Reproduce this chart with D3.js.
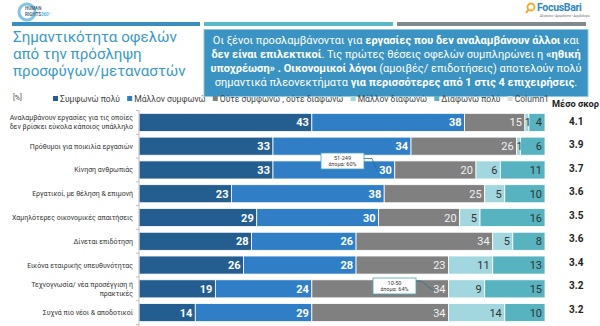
<!DOCTYPE html>
<html><head><meta charset="utf-8">
<script src="https://cdn.jsdelivr.net/npm/d3@7"></script>
<style>
html,body{margin:0;padding:0;background:#fff;}
svg{display:block;font-family:Roboto,"Liberation Sans",sans-serif;}
</style></head>
<body>
<svg id="c" width="600" height="326"></svg>
<script>
// ---- data ----
const categories = [
  ["Αναλαμβάνουν εργασίες για τις οποίες","δεν βρίσκει εύκολα κάποιος υπάλληλο"],
  ["Πρόθυμοι για ποικιλία εργασιών"],
  ["Κίνηση ανθρωπιάς"],
  ["Εργατικοί, με θέληση & επιμονή"],
  ["Χαμηλότερες οικονομικές απαιτήσεις"],
  ["Δίνεται επιδότηση"],
  ["Εικόνα εταιρικής υπευθυνότητας"],
  ["Τεχνογνωσία/ νέα προσέγγιση ή","πρακτικές"],
  ["Συχνά πιο νέοι & αποδοτικοί"]
];
const seriesNames = ["Συμφωνώ πολύ","Μάλλον συμφωνώ","Ούτε  συμφωνώ , ούτε  διαφωνώ","Μάλλον  διαφωνώ","Διαφωνώ πολύ","Column1"];
const agreeVery   = [43,33,33,23,29,28,26,19,14];
const agreeRather = [38,34,30,38,30,26,28,24,29];
const neutral     = [15,26,20,25,20,34,23,34,34];
const disRather   = [1,1,6,5,5,5,11,9,14];
const disVery     = [4,6,11,10,16,8,13,15,10];
const meanScore   = [4.1,3.9,3.7,3.6,3.5,3.6,3.4,3.2,3.2];
const titleLines = ["Σημαντικότητα οφελών","από την πρόσληψη","προσφύγων/μεταναστών"];
const boxLines = [
  [["Οι ξένοι προσλαμβάνονται για ",0],["εργασίες που δεν αναλαμβάνουν άλλοι",1],[" και",0]],
  [["δεν είναι επιλεκτικοί",1],[". Τις πρώτες θέσεις οφελών συμπληρώνει η ",0],["«ηθική",1]],
  [["υποχρέωση» . Οικονομικοί λόγοι",1],[" (αμοιβές/ επιδοτήσεις) αποτελούν πολύ",0]],
  [["σημαντικά πλεονεκτήματα ",0],["για περισσότερες από 1 στις 4 επιχειρήσεις",1],[".",0]]
];
const callouts = [
  {row:2, lines:["51-249","άτομα: 60%"]},
  {row:7, lines:["10-50","άτομα: 64%"]}
];

const colors = ["#245E91","#2F7EC6","#808080","#A2D7DF","#56B3BF","#D9DDE0"];
const labelFill = ["#fff","#fff","#f2f2f2","#333","#333"];
const labelWeight = ["bold","bold","normal","normal","normal"];

const svg = d3.select("#c");

// ---- header decorations ----
svg.append("rect").attr("x",12).attr("y",22).attr("width",188).attr("height",4).attr("fill","#3B8EC0");
svg.append("rect").attr("x",204).attr("y",22).attr("width",189).attr("height",4).attr("fill","#5BB8C8");
svg.append("rect").attr("x",397).attr("y",22).attr("width",189).attr("height",4).attr("fill","#7E8A8C");

// human rights logo
svg.append("circle").attr("cx",27).attr("cy",12).attr("r",8).attr("fill","none").attr("stroke","#7FC6E6").attr("stroke-width",3);
svg.append("text").attr("x",25).attr("y",10).attr("font-size",4.5).attr("font-weight","bold").attr("fill","#4a6a80").text("HUMAN");
svg.append("text").attr("x",25).attr("y",16).attr("font-size",4.5).attr("font-weight","bold").attr("fill","#4a6a80").text("RIGHTS")
  .append("tspan").attr("fill","#55B7E0").text("360°");

// focus bari logo
svg.append("circle").attr("cx",531).attr("cy",7).attr("r",3.5).attr("fill","none").attr("stroke","#F5A623").attr("stroke-width",1.8);
svg.append("line").attr("x1",528.5).attr("y1",9.5).attr("x2",526).attr("y2",13).attr("stroke","#F5A623").attr("stroke-width",2);
svg.append("text").attr("x",537).attr("y",11).attr("font-size",10.5).attr("font-weight","bold").attr("fill","#2F86C8")
  .attr("letter-spacing",-0.3).text("FocusBari");
svg.append("text").attr("x",540).attr("y",16.5).attr("font-size",2.8).attr("fill","#666").text("Αξιόπιστο • Αμεροληπτο • Ακριβολογία");

// title
const title = svg.append("g");
const titleBase = [42,59,76];
titleLines.forEach((t,i)=>{
  title.append("text").attr("x",13).attr("y",titleBase[i]).attr("font-size",17)
    .attr("fill","#3A9AC8").text(t);
});
{
  const w = title.select("text").node().getComputedTextLength();
  title.selectAll("text").attr("font-size",17*164/w);
}

// text box
svg.append("rect").attr("x",204).attr("y",29.5).attr("width",384).attr("height",67)
  .attr("fill","#3A93C2").attr("stroke","#8CC8E0").attr("stroke-width",1);
const boxBase = [44,58,72,86];
const boxG = svg.append("g");
boxLines.forEach((parts,i)=>{
  const t = boxG.append("text").attr("x",396).attr("y",boxBase[i]).attr("text-anchor","middle")
    .attr("font-size",11).attr("fill","#fff");
  parts.forEach(p=>t.append("tspan").attr("font-weight",p[1]?"bold":"normal").text(p[0]));
});
{
  const w = boxG.select("text").node().getComputedTextLength();
  boxG.selectAll("text").attr("font-size",11*367/w);
}

// ---- chart ----
const x = d3.scaleLinear().domain([0,1]).range([139,545]);
const y = d3.scaleBand().domain(d3.range(categories.length)).range([110.5,324.5]).paddingInner(0.24).paddingOuter(0.12);

const series = [agreeVery,agreeRather,neutral,disRather,disVery];
const rows = categories.map((c,i)=>{
  const vals = series.map(s=>s[i]);
  const tot = d3.sum(vals);
  let cum = 0;
  return vals.map((v,k)=>{ const seg={row:i,k,v,x0:cum/tot,x1:(cum+v)/tot}; cum+=v; return seg; });
});
const segs = rows.flat();

svg.append("g").selectAll("rect").data(segs).join("rect")
  .attr("x",d=>x(d.x0)).attr("y",d=>y(d.row))
  .attr("width",d=>x(d.x1)-x(d.x0)).attr("height",y.bandwidth())
  .attr("fill",d=>colors[d.k]).attr("stroke","#fff").attr("stroke-width",0.8);

const narrow = d=> (x(d.x1)-x(d.x0)) < 10;
svg.append("g").selectAll("text").data(segs).join("text")
  .attr("x",d=> narrow(d) ? (x(d.x0)+x(d.x1))/2 + 1 : x(d.x1)-3)
  .attr("y",d=>y(d.row)+y.bandwidth()/2+4)
  .attr("text-anchor",d=> narrow(d) ? "middle" : "end").attr("font-size",d=> narrow(d)?10:11)
  .attr("font-weight",d=>labelWeight[d.k]).attr("fill",d=>labelFill[d.k])
  .text(d=>d.v);

// axis
const yAxis = svg.append("g").attr("transform","translate(139,0)");
yAxis.append("line").attr("x1",0).attr("x2",0).attr("y1",110).attr("y2",326).attr("stroke","#bfbfbf");
const bounds = d3.range(categories.length+1).map(i=> i===0?110.5: y(i-1)+y.bandwidth()+y.step()*y.paddingInner()/2);
yAxis.selectAll("line.tk").data(bounds).join("line").attr("class","tk")
  .attr("x1",-3).attr("x2",0).attr("y1",d=>d).attr("y2",d=>d).attr("stroke","#bfbfbf");

// category labels
svg.append("g").selectAll("text").data(categories).join("text")
  .attr("x",133).attr("y",(d,i)=>y(i)+y.bandwidth()/2 + 2.5 - (d.length-1)*4.5)
  .attr("text-anchor","end").attr("font-size",7).attr("fill","#333")
  .each(function(d){
    const t=d3.select(this);
    d.forEach((ln,j)=>t.append("tspan").attr("x",133).attr("dy",j?9:0).text(ln));
  });

// mean score
const ms = svg.append("text").attr("x",552).attr("y",107).attr("font-size",10.5).attr("font-weight","bold").attr("fill","#222").text("Μέσο σκορ");
{
  const w = ms.node().getComputedTextLength();
  if (w > 47) ms.attr("font-size",10.5*47/w);
}
svg.append("g").selectAll("text").data(meanScore).join("text")
  .attr("x",569).attr("y",(d,i)=>y(i)+y.bandwidth()/2+2.5-i*0.3)
  .attr("font-size",10).attr("font-weight","bold").attr("fill","#222")
  .text(d=>d3.format(".1f")(d));

// legend (sequential layout fitted between x=53 and x=549)
const leg = svg.append("g");
const legTexts = seriesNames.map((n,i)=>
  leg.append("text").attr("y",101.5).attr("font-size",10).attr("fill","#444").text(n));
{
  const sq=5, g1=2, g2=7, start=53, end=549;
  const tw = legTexts.map(t=>t.node().getComputedTextLength());
  const fixed = seriesNames.length*(sq+g1) + (seriesNames.length-1)*g2;
  const k = (end-start-fixed)/d3.sum(tw);
  let cx = start;
  legTexts.forEach((t,i)=>{
    leg.append("rect").attr("x",cx).attr("y",96).attr("width",sq).attr("height",sq).attr("fill",colors[i]);
    t.attr("x",cx+sq+g1).attr("font-size",10*k);
    cx += sq+g1+tw[i]*k+g2;
  });
}
svg.append("text").attr("x",13).attr("y",100).attr("font-size",7).attr("fill","#444").text("[%]");

// callouts
const cg = svg.append("g");
const cPos = [{bx:321,by:153,tx:377,ty:171,mx:372,my:158.5},{bx:373,by:278,tx:434,ty:291,mx:421,my:281}];
callouts.forEach((c,i)=>{
  const p=cPos[i];
  cg.append("path").attr("d",`M${p.bx+43},${p.my}L${p.mx},${p.my}L${p.tx},${p.ty}`)
    .attr("fill","none").attr("stroke","#2E6E8A").attr("stroke-width",0.8);
  cg.append("rect").attr("x",p.bx).attr("y",p.by).attr("width",43).attr("height",16)
    .attr("fill","#fff").attr("stroke","#4AA3B8").attr("stroke-width",0.8);
  c.lines.forEach((ln,j)=>cg.append("text").attr("x",p.bx+21.5).attr("y",p.by+6.5+j*6.5)
    .attr("text-anchor","middle").attr("font-size",5.5).attr("fill","#333").text(ln));
});
</script>
</body></html>
